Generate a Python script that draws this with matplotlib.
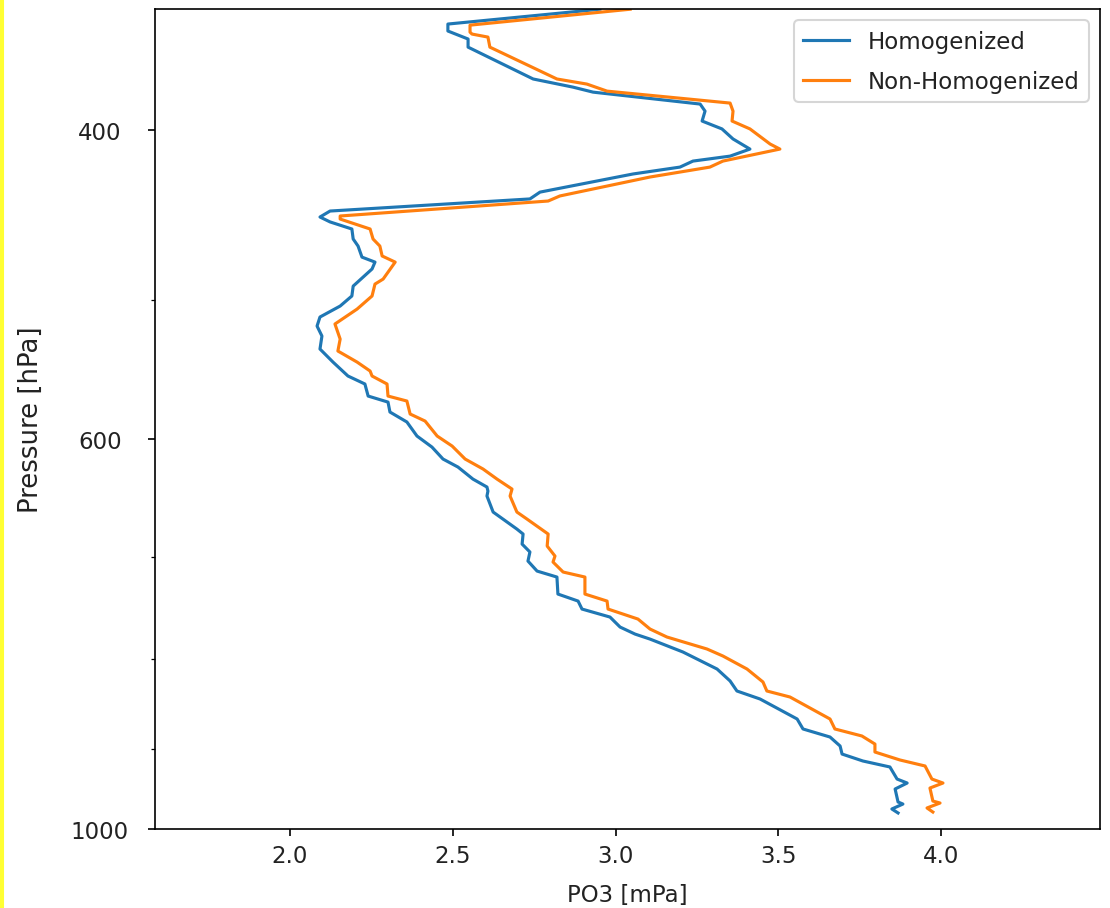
import matplotlib
matplotlib.use("Agg")
import matplotlib.pyplot as plt
from matplotlib.ticker import NullFormatter
from matplotlib.patches import Rectangle
import numpy as np

# Homogenized profile (pressure hPa, PO3 mPa)
p_hom = [341.4, 348.1, 351.3, 355.0, 358.8, 374.1, 378.1, 380.6, 386.6, 390.2,
         395.3, 399.4, 404.7, 410.1, 413.9, 416.6, 419.9, 423.7, 433.9, 437.8,
         444.8, 448.3, 451.2, 455.4, 461.4, 465.7, 472.5, 475.6, 479.9, 490.8,
         497.2, 503.8, 511.1, 517.2, 524.0, 533.0, 542.2, 552.2, 558.0, 566.9,
         571.4, 578.9, 586.5, 597.4, 606.1, 615.7, 622.2, 632.1, 638.7, 642.1,
         646.3, 660.0, 674.9, 679.3, 688.3, 695.5, 703.8, 713.1, 718.7, 734.9,
         741.7, 749.5, 757.4, 767.4, 774.5, 779.6, 792.9, 810.8, 823.6, 834.5,
         843.3, 865.7, 877.1, 886.4, 896.9, 906.4, 914.7, 921.9, 936.6, 941.5,
         948.9, 965.2, 967.8, 974.1, 979.2]
o3_hom = [2.952, 2.485, 2.485, 2.547, 2.547, 2.747, 2.869, 2.931, 3.260, 3.275,
          3.266, 3.327, 3.361, 3.413, 3.352, 3.238, 3.198, 3.054, 2.768, 2.737,
          2.123, 2.092, 2.123, 2.190, 2.194, 2.209, 2.221, 2.261, 2.252, 2.194,
          2.190, 2.154, 2.092, 2.083, 2.098, 2.092, 2.132, 2.178, 2.230, 2.240,
          2.301, 2.307, 2.359, 2.390, 2.436, 2.470, 2.516, 2.562, 2.605, 2.608,
          2.605, 2.624, 2.697, 2.716, 2.713, 2.737, 2.731, 2.759, 2.820, 2.823,
          2.885, 2.897, 2.983, 3.014, 3.060, 3.106, 3.207, 3.312, 3.352, 3.373,
          3.444, 3.558, 3.576, 3.659, 3.690, 3.696, 3.760, 3.843, 3.865, 3.896,
          3.859, 3.868, 3.883, 3.849, 3.868]

# Non-homogenized profile
p_raw = [341.4, 348.6, 351.8, 352.7, 354.1, 358.8, 374.1, 376.6, 380.1, 386.1,
         390.2, 395.3, 399.4, 407.4, 410.1, 416.6, 419.9, 425.4, 436.1, 439.0,
         447.7, 449.5, 455.4, 461.4, 465.7, 471.8, 475.6, 486.3, 489.5, 497.2,
         505.8, 515.8, 526.1, 534.4, 542.2, 548.6, 552.2, 558.0, 566.9, 570.6,
         580.4, 585.8, 597.4, 605.3, 615.7, 623.8, 632.1, 640.4, 646.3, 660.0,
         666.1, 679.3, 690.1, 699.2, 704.7, 714.0, 718.7, 734.9, 741.7, 749.5,
         759.4, 769.4, 777.5, 789.8, 797.1, 810.8, 824.7, 834.5, 841.1, 865.7,
         877.1, 885.2, 894.6, 904.0, 913.5, 920.7, 936.6, 941.5, 947.7, 964.0,
         966.5, 972.8, 978.0]
o3_raw = [3.045, 2.553, 2.553, 2.559, 2.608, 2.614, 2.820, 2.912, 2.974, 3.352,
          3.361, 3.358, 3.413, 3.475, 3.505, 3.330, 3.290, 3.106, 2.829, 2.793,
          2.154, 2.154, 2.246, 2.255, 2.276, 2.283, 2.323, 2.286, 2.261, 2.252,
          2.206, 2.138, 2.154, 2.147, 2.206, 2.246, 2.252, 2.298, 2.301, 2.359,
          2.369, 2.415, 2.452, 2.498, 2.538, 2.593, 2.636, 2.682, 2.676, 2.697,
          2.728, 2.793, 2.790, 2.814, 2.808, 2.839, 2.906, 2.906, 2.974, 2.977,
          3.069, 3.106, 3.158, 3.281, 3.330, 3.404, 3.453, 3.465, 3.536, 3.659,
          3.674, 3.757, 3.797, 3.797, 3.874, 3.951, 3.972, 4.006, 3.966, 3.975,
          3.997, 3.957, 3.975]

yticks = [400, 600, 1000]

plt.rcParams['text.color'] = '#222222'
plt.rcParams['xtick.labelcolor'] = '#222222'
plt.rcParams['ytick.labelcolor'] = '#222222'
plt.rcParams['axes.labelcolor'] = '#222222'

fig = plt.figure(figsize=(7.4, 6.06), dpi=150)
ax = fig.add_axes([0.1396, 0.0869, 0.8514, 0.9021])

ax.plot(o3_hom, p_hom, label='Homogenized')
ax.plot(o3_raw, p_raw, label='Non-Homogenized')

ax.set_yscale('log')
ax.set_ylim(1000, 341.3)
ax.set_yticks(yticks)
ax.set_yticklabels([str(t) for t in yticks], ha='center')
ax.yaxis.set_minor_formatter(NullFormatter())
ax.tick_params(axis='y', which='major', labelsize=11, pad=23)
ax.tick_params(axis='x', labelsize=11)
ax.set_xlim(1.585, 4.4885)

ax.set_xlabel('PO3 [mPa]', fontsize=11, labelpad=8)
ax.set_ylabel('Pressure [hPa]', fontsize=12.5, labelpad=13)
ax.legend(loc='upper right', fontsize=11, labelspacing=0.75)

# thin yellow edge on the left of the screenshot
fig.patches.append(Rectangle((0, 0), 3 / 1110, 1, transform=fig.transFigure,
                             color='#ffff33', zorder=10))

fig.savefig('out.png', dpi=150)
